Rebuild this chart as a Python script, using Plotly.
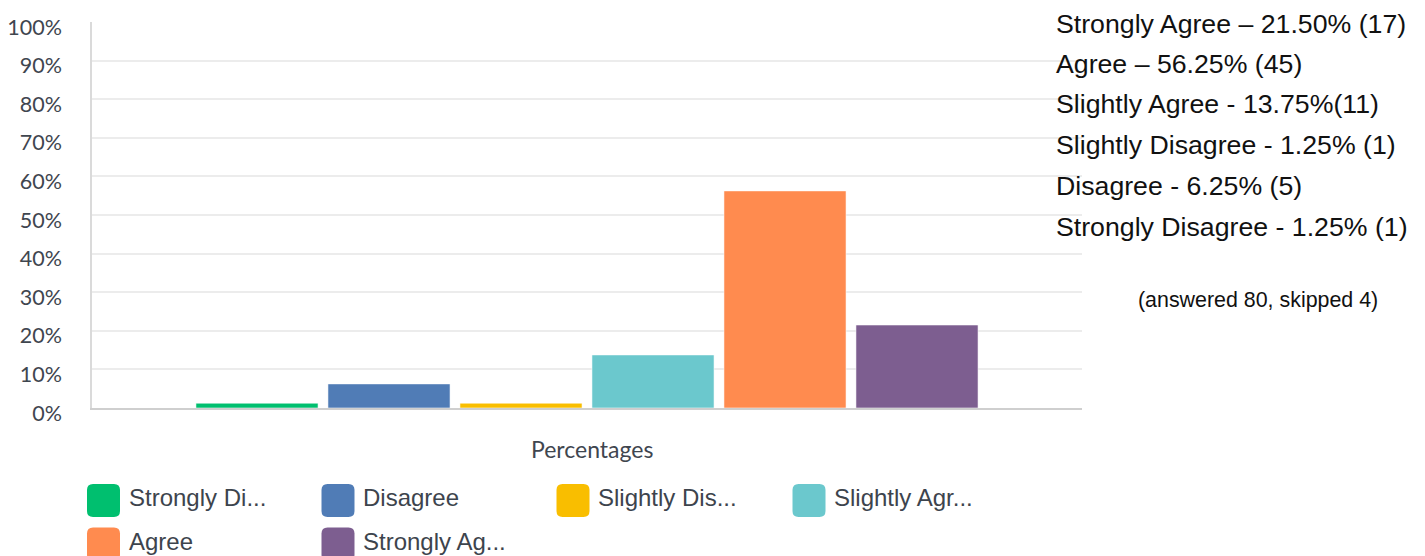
import plotly.graph_objects as go

# Survey responses (percent of respondents)
categories = ["Strongly Disagree", "Disagree", "Slightly Disagree",
              "Slightly Agree", "Agree", "Strongly Agree"]
percentages = [1.25, 6.25, 1.25, 13.75, 56.25, 21.5]
colors = ["#00BF6F", "#507CB6", "#F9BE00", "#6BC8CD", "#FF8B4F", "#7D5E90"]
legend_labels = ["Strongly Di...", "Disagree", "Slightly Dis...",
                 "Slightly Agr...", "Agree", "Strongly Ag..."]
group_label = "Percentages"

summary_lines = [
    "Strongly Agree \u2013 21.50% (17)",
    "Agree \u2013 56.25% (45)",
    "Slightly Agree - 13.75%(11)",
    "Slightly Disagree - 1.25% (1)",
    "Disagree - 6.25% (5)",
    "Strongly Disagree - 1.25% (1)",
]
answered_note = "(answered 80, skipped 4)"

W, H = 1425, 556
PL, PR, PT, PB = 92, 1082, 22, 408  # plot area in pixels


def px_x(x):
    return (x - PL) / (PR - PL)


def px_y(y):
    return (PB - y) / (PB - PT)


def rounded_square(cx, cy, size, r):
    x0, x1 = cx - size / 2, cx + size / 2
    y0, y1 = cy - size / 2, cy + size / 2
    pts = [
        ("M", x0 + r, y0), ("L", x1 - r, y0), ("Q", x1, y0, x1, y0 + r),
        ("L", x1, y1 - r), ("Q", x1, y1, x1 - r, y1),
        ("L", x0 + r, y1), ("Q", x0, y1, x0, y1 - r),
        ("L", x0, y0 + r), ("Q", x0, y0, x0 + r, y0),
    ]
    parts = []
    for p in pts:
        if p[0] == "Q":
            parts.append(f"Q {px_x(p[1]):.5f},{px_y(p[2]):.5f} {px_x(p[3]):.5f},{px_y(p[4]):.5f}")
        else:
            parts.append(f"{p[0]} {px_x(p[1]):.5f},{px_y(p[2]):.5f}")
    return " ".join(parts) + " Z"


fig = go.Figure()
for name, val, col in zip(categories, percentages, colors):
    fig.add_trace(go.Bar(
        x=[group_label], y=[val], name=name,
        marker=dict(color=col, line=dict(color="rgba(255,255,255,0.55)", width=1)),
        showlegend=False,
    ))

axis_font = "Lato, 'Open Sans', sans-serif"
tick_font = dict(family=axis_font, size=21.5, color="#3f464f")

fig.update_layout(
    width=W, height=H,
    margin=dict(l=PL, r=W - PR, t=PT, b=H - PB, autoexpand=False),
    paper_bgcolor="white", plot_bgcolor="white",
    barmode="group", bargap=0.2, bargroupgap=0.075,
    xaxis=dict(
        showticklabels=False, showgrid=False, zeroline=False,
        showline=True, linecolor="#cfcfcf", linewidth=2,
        automargin=False,
    ),
    yaxis=dict(
        range=[0, 100], dtick=10, ticksuffix="%",
        showgrid=True, gridcolor="#ececec", gridwidth=1.5,
        zeroline=False, showline=True, linecolor="#dadada", linewidth=1.5,
        tickfont=tick_font, ticklabelstandoff=24, ticklabelshift=5,
        automargin=False,
    ),
)

# Axis caption under the bars
fig.add_annotation(
    x=px_x(592), y=px_y(449), xref="paper", yref="paper",
    text=group_label, showarrow=False, xanchor="center", yanchor="middle",
    font=dict(family=axis_font, size=23, color="#3f464f"),
)

# Summary text on the right
line_ys = [24, 64, 104, 145, 186, 227]
for txt, yy in zip(summary_lines, line_ys):
    fig.add_annotation(
        x=px_x(1054), y=px_y(yy), xref="paper", yref="paper",
        text=txt, showarrow=False, xanchor="left", yanchor="middle",
        font=dict(family="Liberation Sans, Arial, sans-serif", size=26.7, color="#111111"),
    )
fig.add_annotation(
    x=px_x(1258), y=px_y(300), xref="paper", yref="paper",
    text=answered_note, showarrow=False, xanchor="center", yanchor="middle",
    font=dict(family="Liberation Sans, Arial, sans-serif", size=21.4, color="#111111"),
)

# Legend drawn as rounded swatches with labels
col_x = [103.5, 338, 573, 809]
row_y = [500.5, 544]
for i, (lbl, col) in enumerate(zip(legend_labels, colors)):
    cx = col_x[i % 4]
    cy = row_y[i // 4]
    fig.add_shape(
        type="path", xref="paper", yref="paper",
        path=rounded_square(cx, cy, 33, 6),
        fillcolor=col, line=dict(width=0), layer="above",
    )
    fig.add_annotation(
        x=px_x(cx + 23), y=px_y(cy - 3), xref="paper", yref="paper",
        text=lbl, showarrow=False, xanchor="left", yanchor="middle",
        font=dict(family="Liberation Sans, Arial, sans-serif", size=24, color="#3d444d"),
    )

fig.write_html("out.html")
